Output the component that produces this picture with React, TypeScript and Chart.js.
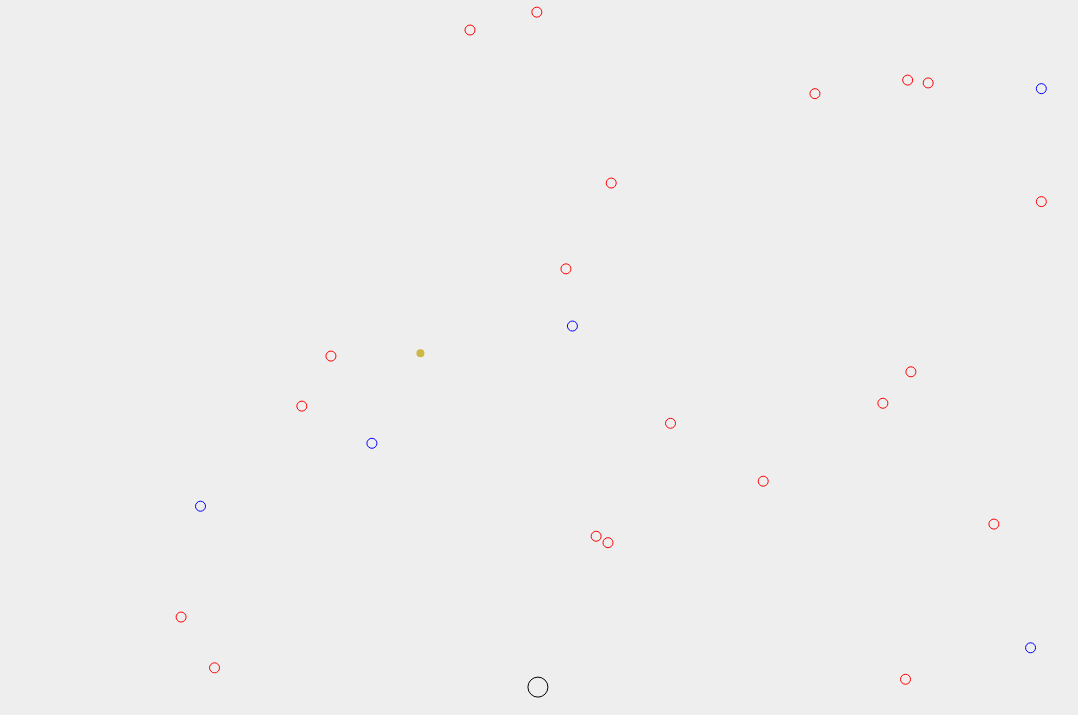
import React, { useEffect, useRef } from "react";
import { Chart, registerables } from "chart.js";

Chart.register(...registerables);

const redX = [49.8, 43.6, 75.6, 84.2, 86.1, 56.7, 96.6, 52.5, 30.7, 28.0, 84.5, 81.9, 62.2, 70.8, 92.2, 55.3, 56.4, 16.8, 19.9, 84.0];
const redY = [98.3, 95.8, 86.9, 88.8, 88.4, 74.4, 71.8, 62.4, 50.2, 43.2, 48.0, 43.6, 40.8, 32.7, 26.7, 25.0, 24.1, 13.7, 6.6, 5.0];
const blueX = [96.6, 53.1, 34.5, 18.6, 95.6];
const blueY = [87.6, 54.4, 38.0, 29.2, 9.4];
const goldX = [39.0];
const goldY = [50.6];
const blackX = [49.9];
const blackY = [3.9];

const pts = (xs: number[], ys: number[]) => xs.map((x, i) => ({ x, y: ys[i] }));

export default function App() {
  const ref = useRef<HTMLCanvasElement>(null);
  useEffect(() => {
    document.body.style.margin = "0";
    document.body.style.background = "#eeeeee";
    const chart = new Chart(ref.current!, {
      type: "scatter",
      data: {
        datasets: [
          { data: pts(redX, redY), pointRadius: 5, borderColor: "#ff0000", backgroundColor: "transparent", borderWidth: 1 },
          { data: pts(blueX, blueY), pointRadius: 5, borderColor: "#0000ff", backgroundColor: "transparent", borderWidth: 1 },
          { data: pts(goldX, goldY), pointRadius: 4, borderColor: "#cbb845", backgroundColor: "#cbb845", borderWidth: 0 },
          { data: pts(blackX, blackY), pointRadius: 10, borderColor: "#000000", backgroundColor: "transparent", borderWidth: 1 },
        ],
      },
      options: {
        responsive: false,
        animation: false,
        clip: false,
        layout: { padding: 0, autoPadding: false },
        plugins: { legend: { display: false }, tooltip: { enabled: false } },
        scales: {
          x: { type: "linear", min: 0, max: 100, display: false },
          y: { type: "linear", min: 0, max: 100, display: false },
        },
      },
    });
    return () => chart.destroy();
  }, []);
  return <canvas ref={ref} width={1078} height={715} style={{ display: "block", background: "#eeeeee" }} />;
}
